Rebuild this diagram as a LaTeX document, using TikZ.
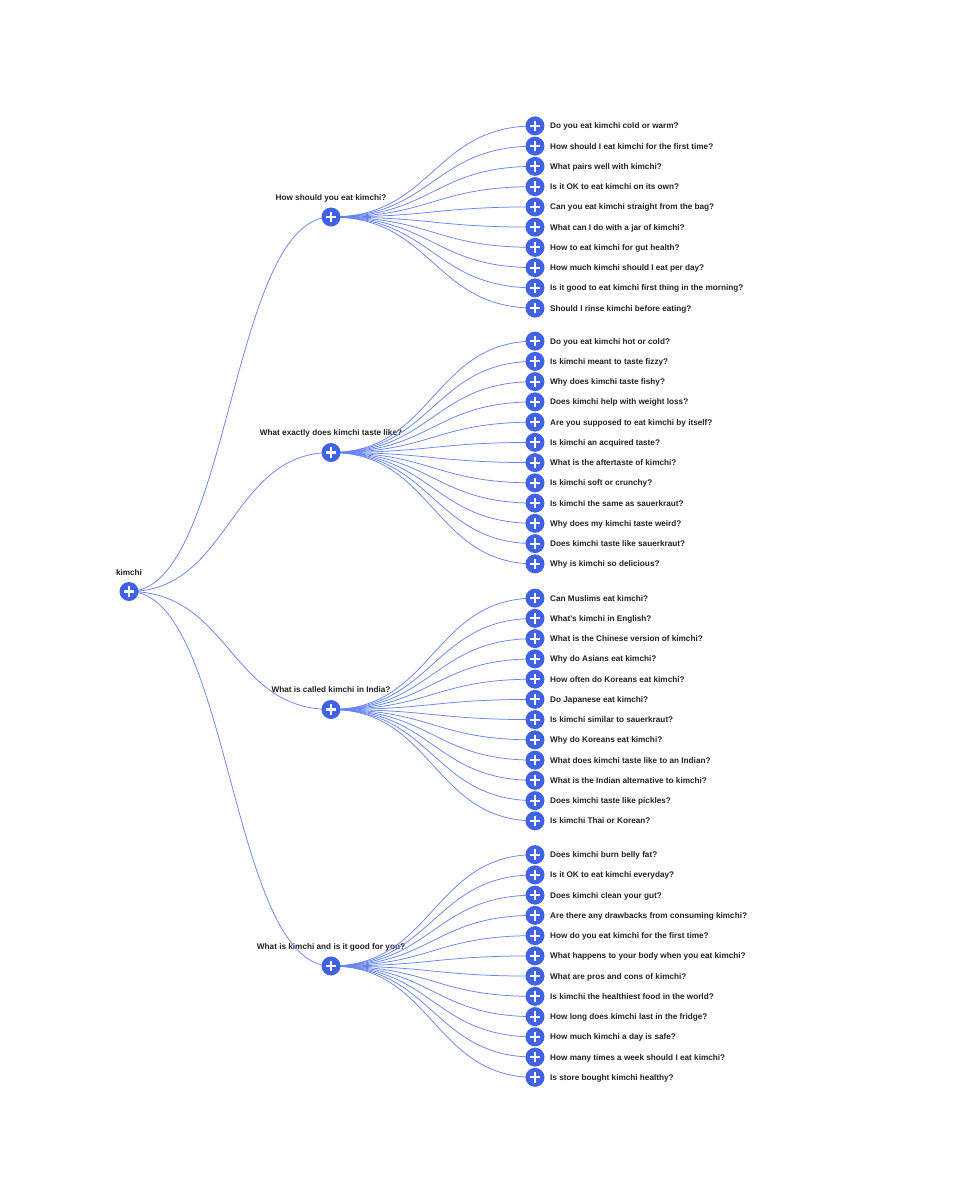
\documentclass[tikz,border=0pt]{standalone}
\usepackage{fontspec}
\setmainfont{Liberation Sans}
\definecolor{nodeblue}{HTML}{4262E6}
\definecolor{linkblue}{HTML}{6783F0}
\definecolor{txt}{HTML}{222222}
\pgfdeclarelayer{bg}
\pgfdeclarelayer{mid}
\pgfsetlayers{bg,mid,main}
\begin{document}
\begin{tikzpicture}[x=1pt,y=-1pt,
  circ/.style={circle,fill=nodeblue,minimum size=19pt,inner sep=0pt,
    path picture={\draw[white,line width=2.1pt]
      ([xshift=-5.2pt]path picture bounding box.center) -- ([xshift=5.2pt]path picture bounding box.center)
      ([yshift=-5.2pt]path picture bounding box.center) -- ([yshift=5.2pt]path picture bounding box.center);}},
  lbl/.style={font=\bfseries\fontsize{8.2}{10}\selectfont,text=txt,inner sep=0pt},
  leaflabel/.style={lbl,anchor=base west},
  toplabel/.style={lbl,anchor=base},
  link/.style={draw=linkblue,line width=0.75pt}]
\useasboundingbox (0,0) rectangle (974,1200);

% root
\node[circ] (root) at (129,591.5) {};
\begin{pgfonlayer}{bg}
\node[toplabel] (rootlbl) at (129,575) {kimchi};
\end{pgfonlayer}

% level 1
\foreach \y/\t/\n in {217/How should you eat kimchi?/g1, 452.5/What exactly does kimchi taste like?/g2, 709.5/What is called kimchi in India?/g3, 966/What is kimchi and is it good for you?/g4}{
  \node[circ] (\n) at (331,\y) {};
  \begin{pgfonlayer}{bg}
  \node[toplabel] (\n-lbl) at (331,\y-17) {\t};
  \end{pgfonlayer}
  \begin{pgfonlayer}{mid}
  \draw[link] (root.center) .. controls (230,591.5) and (230,\y) .. (\n.center);
  \end{pgfonlayer}
}

% group 1
\foreach \t [count=\i] in {Do you eat kimchi cold or warm?, How should I eat kimchi for the first time?, What pairs well with kimchi?, Is it OK to eat kimchi on its own?, Can you eat kimchi straight from the bag?, What can I do with a jar of kimchi?, How to eat kimchi for gut health?, How much kimchi should I eat per day?, Is it good to eat kimchi first thing in the morning?, Should I rinse kimchi before eating?}{
  \pgfmathsetmacro\yy{217+(\i-5.5)*20.25}
  \node[circ] (g1-\i) at (535,\yy) {};
  \begin{pgfonlayer}{bg}
  \node[leaflabel] (g1-\i-lbl) at (550,\yy+2.9) {\t};
  \end{pgfonlayer}
  \begin{pgfonlayer}{mid}
  \draw[link] (g1.center) .. controls (433,217) and (433,\yy) .. (g1-\i.center);
  \end{pgfonlayer}
}

% group 2
\foreach \t [count=\i] in {Do you eat kimchi hot or cold?, Is kimchi meant to taste fizzy?, Why does kimchi taste fishy?, Does kimchi help with weight loss?, Are you supposed to eat kimchi by itself?, Is kimchi an acquired taste?, What is the aftertaste of kimchi?, Is kimchi soft or crunchy?, Is kimchi the same as sauerkraut?, Why does my kimchi taste weird?, Does kimchi taste like sauerkraut?, Why is kimchi so delicious?}{
  \pgfmathsetmacro\yy{452.5+(\i-6.5)*20.25}
  \node[circ] (g2-\i) at (535,\yy) {};
  \begin{pgfonlayer}{bg}
  \node[leaflabel] (g2-\i-lbl) at (550,\yy+2.9) {\t};
  \end{pgfonlayer}
  \begin{pgfonlayer}{mid}
  \draw[link] (g2.center) .. controls (433,452.5) and (433,\yy) .. (g2-\i.center);
  \end{pgfonlayer}
}

% group 3
\foreach \t [count=\i] in {Can Muslims eat kimchi?, What's kimchi in English?, What is the Chinese version of kimchi?, Why do Asians eat kimchi?, How often do Koreans eat kimchi?, Do Japanese eat kimchi?, Is kimchi similar to sauerkraut?, Why do Koreans eat kimchi?, What does kimchi taste like to an Indian?, What is the Indian alternative to kimchi?, Does kimchi taste like pickles?, Is kimchi Thai or Korean?}{
  \pgfmathsetmacro\yy{709.5+(\i-6.5)*20.25}
  \node[circ] (g3-\i) at (535,\yy) {};
  \begin{pgfonlayer}{bg}
  \node[leaflabel] (g3-\i-lbl) at (550,\yy+2.9) {\t};
  \end{pgfonlayer}
  \begin{pgfonlayer}{mid}
  \draw[link] (g3.center) .. controls (433,709.5) and (433,\yy) .. (g3-\i.center);
  \end{pgfonlayer}
}

% group 4
\foreach \t [count=\i] in {Does kimchi burn belly fat?, Is it OK to eat kimchi everyday?, Does kimchi clean your gut?, Are there any drawbacks from consuming kimchi?, How do you eat kimchi for the first time?, What happens to your body when you eat kimchi?, What are pros and cons of kimchi?, Is kimchi the healthiest food in the world?, How long does kimchi last in the fridge?, How much kimchi a day is safe?, How many times a week should I eat kimchi?, Is store bought kimchi healthy?}{
  \pgfmathsetmacro\yy{966+(\i-6.5)*20.25}
  \node[circ] (g4-\i) at (535,\yy) {};
  \begin{pgfonlayer}{bg}
  \node[leaflabel] (g4-\i-lbl) at (550,\yy+2.9) {\t};
  \end{pgfonlayer}
  \begin{pgfonlayer}{mid}
  \draw[link] (g4.center) .. controls (433,966) and (433,\yy) .. (g4-\i.center);
  \end{pgfonlayer}
}
\end{tikzpicture}
\end{document}
